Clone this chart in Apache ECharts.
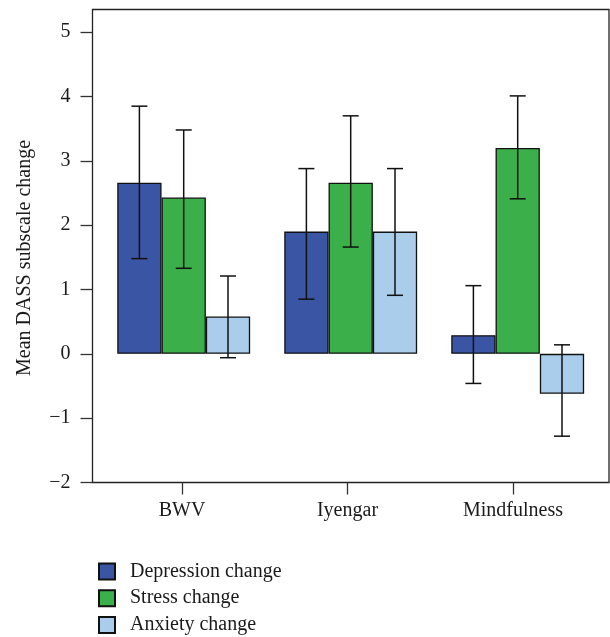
<!DOCTYPE html>
<html><head><meta charset="utf-8">
<script src="https://cdn.jsdelivr.net/npm/echarts@6/dist/echarts.min.js"></script>
<style>html,body{margin:0;padding:0;background:#fff}#c{width:610px;height:637px}</style>
</head><body><div id="c"></div>
<script>
const categories = ['BWV', 'Iyengar', 'Mindfulness'];
const seriesNames = ['Depression change', 'Stress change', 'Anxiety change'];
const depression = [2.66, 1.90, 0.29];
const stress = [2.43, 2.66, 3.20];
const anxiety = [0.58, 1.90, -0.62];
const depressionErr = [[1.48, 3.85], [0.85, 2.88], [-0.46, 1.06]];
const stressErr = [[1.33, 3.48], [1.66, 3.70], [2.41, 4.01]];
const anxietyErr = [[-0.06, 1.21], [0.91, 2.88], [-1.28, 0.14]];
const yTicks = [-2, -1, 0, 1, 2, 3, 4, 5];
const yTitle = 'Mean DASS subscale change';

const colors = ['#3A55A4', '#3BB04A', '#A9CDEA'];
const FONT = 'Liberation Serif';
const FS = 20;
const BAR_W = 44.3;
const Y_MIN = -2, Y_MAX = 5.353;
const TOP = 9.5, HEIGHT = 473;

const chart = echarts.init(document.getElementById('c'), null, {renderer: 'canvas'});

function hiddenY(gi) {
  return {type: 'value', gridIndex: gi, min: Y_MIN, max: Y_MAX, show: false};
}

function barSeries(name, data, k) {
  return {
    type: 'bar', name: name, xAxisIndex: 2, yAxisIndex: 2,
    data: data, barWidth: BAR_W, barGap: '0%',
    itemStyle: {color: colors[k], borderColor: '#111', borderWidth: 1.3},
    emphasis: {disabled: true}
  };
}

function errSeries(errs, k) {
  return {
    type: 'custom', xAxisIndex: 2, yAxisIndex: 2, z: 10, silent: true,
    data: errs.map((e, i) => [i, e[0], e[1]]),
    renderItem(params, api) {
      const lo = api.coord([api.value(0), api.value(1)]);
      const hi = api.coord([api.value(0), api.value(2)]);
      const x = lo[0] + (k - 1) * BAR_W;
      const cap = 8;
      const st = {stroke: '#111', lineWidth: 1.5};
      return {type: 'group', children: [
        {type: 'line', shape: {x1: x, y1: hi[1], x2: x, y2: lo[1]}, style: st},
        {type: 'line', shape: {x1: x - cap, y1: hi[1], x2: x + cap, y2: hi[1]}, style: st},
        {type: 'line', shape: {x1: x - cap, y1: lo[1], x2: x + cap, y2: lo[1]}, style: st}
      ]};
    }
  };
}

const option = {
  animation: false,
  backgroundColor: '#fff',
  textStyle: {fontFamily: FONT},
  grid: [
    {left: 92.5, top: TOP, width: 516.5, height: HEIGHT, show: true, borderColor: '#222', borderWidth: 1.3, backgroundColor: 'transparent'},
    {left: 99.25, top: TOP, width: 496.5, height: HEIGHT},
    {left: 100.2, top: TOP, width: 501, height: HEIGHT}
  ],
  xAxis: [
    {type: 'category', gridIndex: 0, data: categories, show: false},
    {type: 'category', gridIndex: 1, data: categories, position: 'bottom',
      axisLine: {show: false, onZero: false},
      axisTick: {show: true, alignWithLabel: true, length: 12, lineStyle: {color: '#333', width: 1.3}},
      axisLabel: {color: '#1a1a1a', fontFamily: FONT, fontSize: FS, margin: 18}},
    {type: 'category', gridIndex: 2, data: categories, show: false}
  ],
  yAxis: [
    {type: 'value', gridIndex: 0, min: Y_MIN, max: Y_MAX,
      splitLine: {show: false},
      axisLine: {show: false},
      axisTick: {show: true, length: 12, customValues: yTicks, lineStyle: {color: '#333', width: 1.3}},
      axisLabel: {customValues: yTicks, color: '#1a1a1a', fontFamily: FONT, fontSize: FS, margin: 22,
        formatter: v => String(v).replace('-', '\u2212')}},
    hiddenY(1),
    hiddenY(2)
  ],
  legend: {
    orient: 'vertical', left: 93, top: 556.5, height: 120,
    data: seriesNames,
    itemWidth: 16, itemHeight: 16, itemGap: 6.7,
    icon: 'rect',
    selectedMode: false,
    textStyle: {fontFamily: FONT, fontSize: FS, color: '#1a1a1a', lineHeight: 20, padding: [0, 0, 0, 10]}
  },
  graphic: [{
    type: 'text', x: 25, y: 258, rotation: Math.PI / 2,
    style: {text: yTitle, fontFamily: FONT, fontSize: FS, fill: '#1a1a1a', textAlign: 'center', textVerticalAlign: 'middle'}
  }],
  series: [
    barSeries(seriesNames[0], depression, 0),
    barSeries(seriesNames[1], stress, 1),
    barSeries(seriesNames[2], anxiety, 2),
    errSeries(depressionErr, 0),
    errSeries(stressErr, 1),
    errSeries(anxietyErr, 2)
  ]
};
chart.setOption(option);
</script>
</body></html>
